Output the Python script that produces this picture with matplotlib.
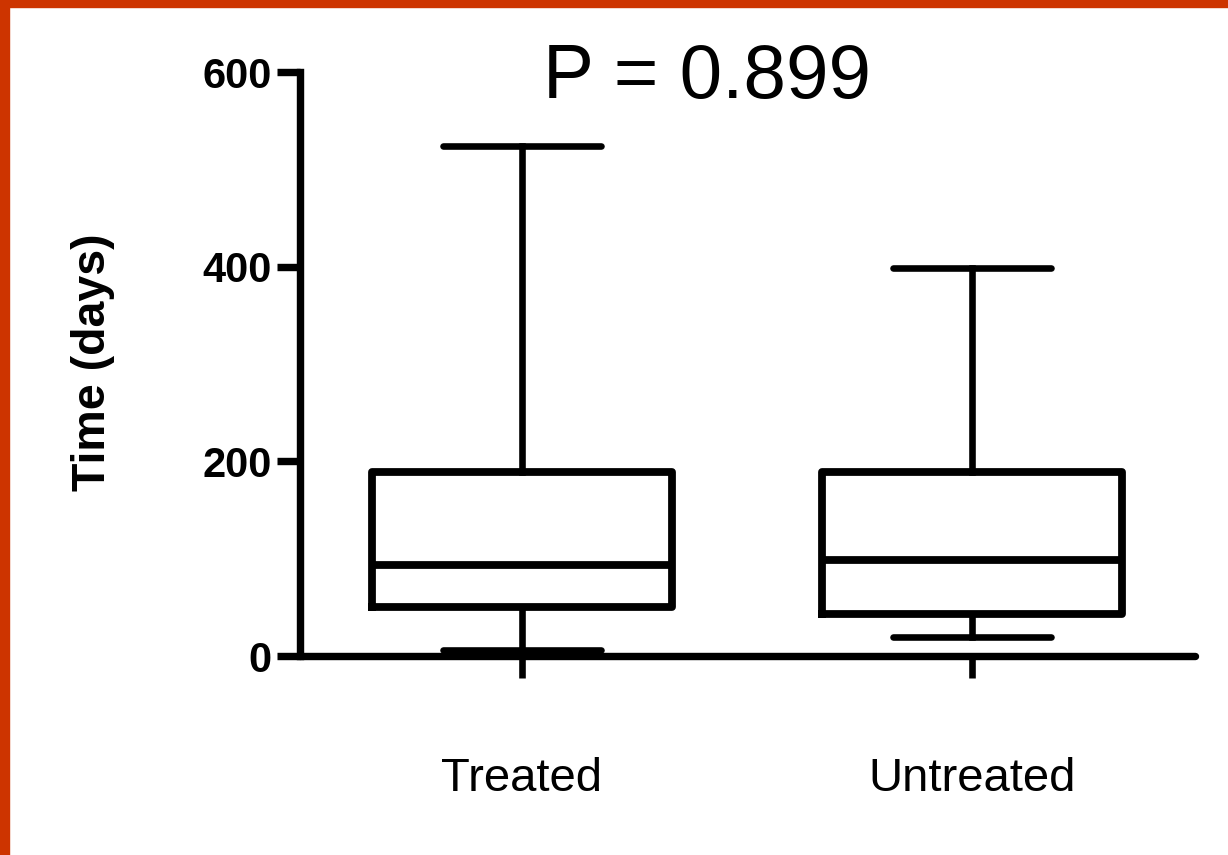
import matplotlib
matplotlib.use("Agg")
import matplotlib.pyplot as plt
from matplotlib.patches import Rectangle

categories = ["Treated", "Untreated"]
whisker_low = [6, 20]
q1 = [50, 43]
median = [94, 99]
q3 = [189, 189]
whisker_high = [524, 399]
yticks = [0, 200, 400, 600]
p_text = "P = 0.899"

plt.rcParams['font.family'] = ['Liberation Sans', 'DejaVu Sans']

fig = plt.figure(figsize=(12.28, 8.55), dpi=100)
ax = fig.add_axes([300/1228, 1-656/855, 895/1228, (656-72)/855])

stats = []
for i, c in enumerate(categories):
    stats.append(dict(label=c, whislo=whisker_low[i], q1=q1[i], med=median[i],
                      q3=q3[i], whishi=whisker_high[i], fliers=[]))

lw = 5.6
ax.bxp(stats, positions=range(len(categories)), widths=0.667, capwidths=0.349,
       showfliers=False,
       boxprops=dict(color='black', linewidth=lw, solid_joinstyle='round'),
       medianprops=dict(color='black', linewidth=lw, solid_capstyle='butt'),
       whiskerprops=dict(color='black', linewidth=lw*0.85),
       capprops=dict(color='black', linewidth=lw*0.85, solid_capstyle='round'))
for art in ax.get_children():
    try:
        art.set_clip_on(False)
    except Exception:
        pass

ax.set_xlim(-0.4933, 1.4956)
ax.set_ylim(0, 600)
ax.spines['top'].set_visible(False)
ax.spines['right'].set_visible(False)
ax.spines['left'].set_linewidth(lw*0.95)
ax.spines['bottom'].set_linewidth(lw*0.95)
ax.spines['left'].set_bounds(0, 600)
ax.spines['left'].set_capstyle('projecting')
ax.spines['bottom'].set_capstyle('round')

ax.set_yticks(yticks)
ax.set_yticklabels([str(v) for v in yticks], fontsize=30, fontweight='bold')
ax.tick_params(axis='y', direction='out', length=16.5, width=lw*0.95, pad=4)
ax.set_xticks(range(len(categories)))
ax.set_xticklabels(categories, fontsize=34)
ax.tick_params(axis='x', direction='out', length=16, width=lw*0.85, pad=57)

fig.text(93/1228, 1-362/855, "Time (days)", rotation=90, fontsize=33.5,
         fontweight='bold', ha='center', va='center')
fig.text(707/1228, 1-78/855, p_text, fontsize=55, ha='center', va='center')

border = '#CD3400'
fig.patches.append(Rectangle((0, 0), 9/1228, 1, transform=fig.transFigure,
                             color=border, zorder=10))
fig.patches.append(Rectangle((0, 1-7/855), 1, 7/855, transform=fig.transFigure,
                             color=border, zorder=10))

fig.savefig("out.png", dpi=100)
